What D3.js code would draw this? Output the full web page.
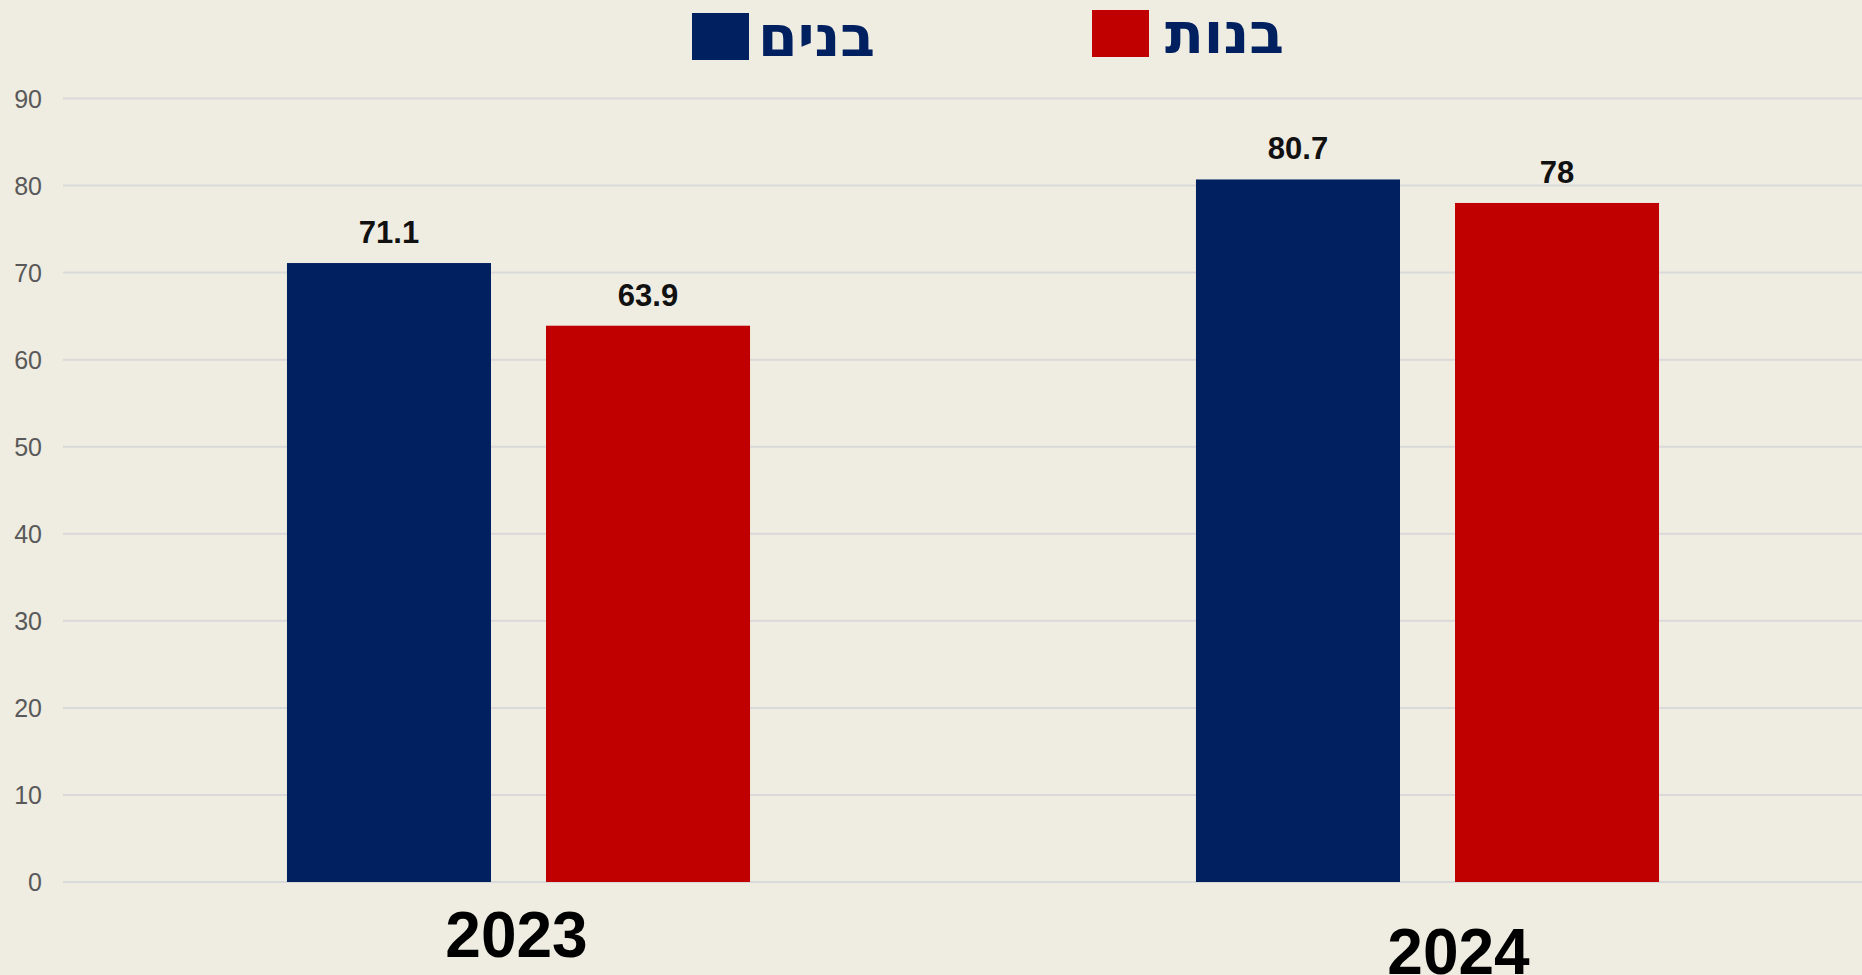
<!DOCTYPE html>
<html lang="he">
  <head>
    <meta charset="UTF-8" />
    <title>בנים ובנות 2023-2024</title>
    <script src="https://d3js.org/d3.v7.min.js"></script>
    <style>
      html, body {
        margin: 0;
        padding: 0;
        background: #efece1;
      }
      .grid line {
        stroke: #d9d9d9;
        stroke-width: 2px;
      }
      .tick-label {
        font-family: "Liberation Sans", Arial, sans-serif;
        font-size: 25px;
        fill: #595959;
      }
      .value-label {
        font-family: "Liberation Sans", Arial, sans-serif;
        font-size: 31px;
        font-weight: bold;
        fill: #111;
      }
      .year-label {
        font-family: "Liberation Sans", Arial, sans-serif;
        font-size: 64px;
        font-weight: bold;
        fill: #000;
      }
      .legend-text {
        font-family: "DejaVu Sans", "Liberation Sans", sans-serif;
        font-size: 57px;
        font-weight: bold;
        fill: #002060;
      }
    </style>
  </head>
  <body>
    <svg id="svg" width="1862" height="975"></svg>
    <script>
      // data
      const years = ["2023", "2024"];
      const series = ["בנים", "בנות"];
      const boys = [71.1, 80.7];
      const girls = [63.9, 78];
      const yTicks = [0, 10, 20, 30, 40, 50, 60, 70, 80, 90];
      const colors = ["#002060", "#c00000"];

      const svg = d3.select("#svg");
      const width = +svg.attr("width");

      const rows = years.map((y, i) => ({ year: y, values: [boys[i], girls[i]] }));

      const x0 = d3
        .scaleBand()
        .domain(years)
        .range([64, 1882])
        .paddingInner(0.4906)
        .paddingOuter(0.2453);

      const x1 = d3
        .scaleBand()
        .domain(series)
        .range([0, x0.bandwidth()])
        .paddingInner(0.2124)
        .paddingOuter(0);

      const y = d3.scaleLinear().domain([0, 90]).range([882, 98.5]);

      // gridlines
      svg
        .append("g")
        .attr("class", "grid")
        .selectAll("line")
        .data(yTicks)
        .enter()
        .append("line")
        .attr("x1", 63)
        .attr("x2", width)
        .attr("y1", (d) => y(d))
        .attr("y2", (d) => y(d));

      // y tick labels
      svg
        .append("g")
        .selectAll("text")
        .data(yTicks)
        .enter()
        .append("text")
        .attr("class", "tick-label")
        .attr("x", 42)
        .attr("y", (d) => y(d) + 9)
        .attr("text-anchor", "end")
        .text((d) => d);

      // bars
      const group = svg
        .append("g")
        .selectAll("g")
        .data(rows)
        .enter()
        .append("g")
        .attr("transform", (d) => `translate(${x0(d.year)},0)`);

      group
        .selectAll("rect")
        .data((d) => d.values.map((v, i) => ({ key: series[i], value: v, i: i })))
        .enter()
        .append("rect")
        .attr("x", (d) => x1(d.key))
        .attr("width", x1.bandwidth())
        .attr("y", (d) => y(d.value))
        .attr("height", (d) => y(0) - y(d.value))
        .attr("fill", (d) => colors[d.i]);

      group
        .selectAll("text")
        .data((d) => d.values.map((v, i) => ({ key: series[i], value: v })))
        .enter()
        .append("text")
        .attr("class", "value-label")
        .attr("x", (d) => x1(d.key) + x1.bandwidth() / 2)
        .attr("y", (d) => y(d.value) - 20)
        .attr("text-anchor", "middle")
        .text((d) => d.value);

      // year labels (the second one sits a bit lower/right in the original)
      svg
        .append("g")
        .selectAll("text")
        .data(years)
        .enter()
        .append("text")
        .attr("class", "year-label")
        .attr("text-anchor", "middle")
        .attr("x", (d, i) => x0(d) + x0.bandwidth() / 2 + (i === 1 ? 31 : -2))
        .attr("y", (d, i) => (i === 1 ? 974 : 957))
        .text((d) => d);

      // legend
      const legendPos = [
        { x: 692, y: 13, tx: 875 },
        { x: 1092, y: 10, tx: 1284 },
      ];
      const legend = svg
        .append("g")
        .selectAll("g")
        .data(series)
        .enter()
        .append("g");

      legend
        .append("rect")
        .attr("x", (d, i) => legendPos[i].x)
        .attr("y", (d, i) => legendPos[i].y)
        .attr("width", 57)
        .attr("height", 47)
        .attr("fill", (d, i) => colors[i]);

      legend
        .append("text")
        .attr("class", "legend-text")
        .attr("x", (d, i) => legendPos[i].tx)
        .attr("y", (d, i) => legendPos[i].y + 43)
        .attr("text-anchor", "end")
        .text((d) => d);
    </script>
  </body>
</html>
